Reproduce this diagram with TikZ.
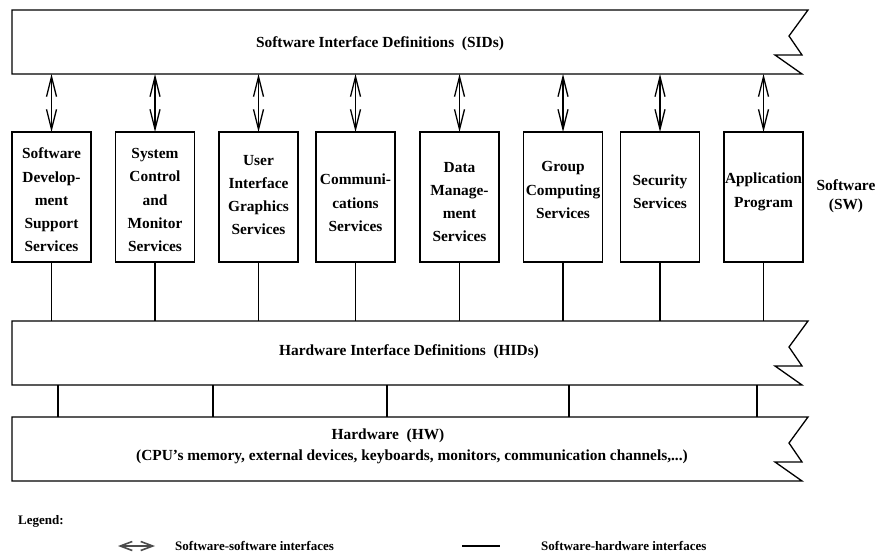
\documentclass[tikz,border=0pt]{standalone}
\usepackage{fontspec}
\setmainfont{Liberation Serif}
\usetikzlibrary{arrows.meta}

% Band with a torn (zigzag) right edge, drawn round an invisible node
\newcommand\zigband[1]{%
  \draw[outline] (#1.north west) -- (#1.north east) -- ++(8,0) -- ++(-19,26)
    -- ++(13,19) -- ++(-27,0) -- ++(27,19) -- (#1.south west) -- cycle;}

\begin{document}
\begin{tikzpicture}[x=1pt,y=-1pt,
  outline/.style={line width=1.3pt, line join=miter},
  svcbox/.style={draw, line width=1.3pt, minimum width=79pt, minimum height=130pt,
    inner sep=0pt, outer sep=0pt},
  svctext/.style={align=center, inner sep=0pt,
    font=\fontsize{15.4}{23.3}\selectfont\bfseries},
  bandarea/.style={minimum width=788pt, minimum height=64pt, inner sep=0pt, outer sep=0pt},
  bandtext/.style={inner sep=0pt, font=\fontsize{15.4}{19}\selectfont\bfseries},
  swlink/.style={line width=1.3pt,
    {Straight Barb[length=20pt,width=10pt]}-{Straight Barb[length=20pt,width=10pt]}},
  hwlink/.style={line width=1.2pt},
  legarrow/.style={line width=1.6pt, draw=black!70,
    {Straight Barb[length=12pt,width=9pt]}-{Straight Barb[length=12pt,width=9pt]}},
  legtext/.style={anchor=west, inner sep=0pt, font=\fontsize{13}{15}\selectfont\bfseries}]

\useasboundingbox (0,0) rectangle (877,556);

% interface bands
\node[bandarea] (sid) at (406,42) {};
\node[bandarea] (hid) at (406,353) {};
\node[bandarea] (hw)  at (406,449) {};
\zigband{sid}
\zigband{hid}
\zigband{hw}
\node[bandtext] (sidtext) at (380,44) {Software Interface Definitions\ \ (SIDs)};
\node[bandtext] (hidtext) at (409,352) {Hardware Interface Definitions\ \ (HIDs)};
\node[bandtext] (hwtext)  at (388,436) {Hardware\ \ (HW)};
\node[bandtext] (hwlist)  at (412,457)
  {(CPU's memory, external devices, keyboards, monitors, communication channels,...)};

% software service boxes
\node[svcbox] (s1) at (51.5,197) {};
\node[svcbox] (s2) at (155,197) {};
\node[svcbox] (s3) at (258.5,197) {};
\node[svcbox] (s4) at (355.5,197) {};
\node[svcbox] (s5) at (459.5,197) {};
\node[svcbox] (s6) at (563,197) {};
\node[svcbox] (s7) at (660,197) {};
\node[svcbox] (s8) at (763.5,197) {};

\node[svctext] (t1) at (51.5,200) {Software\\Develop-\\ment\\Support\\Services};
\node[svctext] (t2) at (155,200) {System\\Control\\and\\Monitor\\Services};
\node[svctext] (t3) at (258.5,195) {User\\Interface\\Graphics\\Services};
\node[svctext] (t4) at (355.5,203) {Communi-\\cations\\Services};
\node[svctext] (t5) at (459.5,202) {Data\\Manage-\\ment\\Services};
\node[svctext] (t6) at (563,190) {Group\\Computing\\Services};
\node[svctext] (t7) at (660,192) {Security\\Services};
\node[svctext] (t8) at (763.5,192) {Application\\Program};

\node[svctext, font=\fontsize{15.4}{18.5}\selectfont\bfseries] (swlabel) at (846,196)
  {Software\\(SW)};

% software-software and software-hardware interfaces
\foreach \s in {s1,s2,s3,s4,s5,s6,s7,s8} {
  \draw[swlink] (\s.north |- sid.south) -- (\s.north);
  \draw[hwlink] (\s.south) -- (\s.south |- hid.north);
}

% links between the hardware interface band and the hardware band
\coordinate (h1) at (58,0);
\coordinate (h2) at (213,0);
\coordinate (h3) at (387,0);
\coordinate (h4) at (569,0);
\coordinate (h5) at (757,0);
\foreach \h in {h1,h2,h3,h4,h5}
  \draw[hwlink] (hid.south -| \h) -- (hw.north -| \h);

% legend
\node[legtext] (legend) at (18,521) {Legend:};
\coordinate (la) at (118,546);
\coordinate (lb) at (155,546);
\draw[legarrow] (la) -- (lb);
\node[legtext] (lswsw) at (175,546) {Software-software interfaces};
\coordinate (lc) at (462,546);
\coordinate (ld) at (500,546);
\draw[hwlink, line width=1.5pt] (lc) -- (ld);
\node[legtext] (lswhw) at (541,546) {Software-hardware interfaces};

\end{tikzpicture}
\end{document}
